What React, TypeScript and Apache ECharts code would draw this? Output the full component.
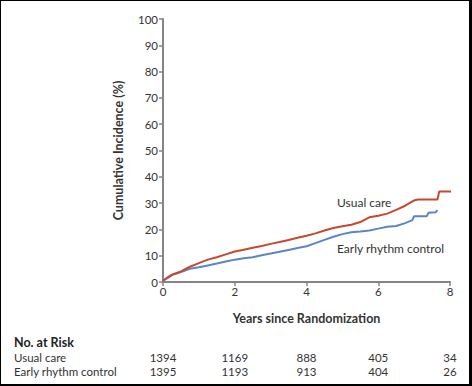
import React, { useEffect, useRef } from "react";
import * as echarts from "echarts";

const xTicks = [0, 2, 4, 6, 8];
const usualCare: [number, number][] = [
  [0, 0.5], [0.1, 1.5], [0.25, 2.8], [0.5, 4.0], [0.75, 5.8], [1.0, 7.2], [1.25, 8.5],
  [1.5, 9.4], [1.75, 10.5], [2.0, 11.6], [2.25, 12.3], [2.5, 13.0], [2.75, 13.7],
  [3.0, 14.5], [3.25, 15.2], [3.5, 16.0], [3.75, 16.8], [4.0, 17.6], [4.25, 18.5],
  [4.5, 19.6], [4.75, 20.5], [5.0, 21.2], [5.25, 21.8], [5.5, 22.8], [5.75, 24.6],
  [6.0, 25.2], [6.25, 26.0], [6.5, 27.4], [6.75, 29.0], [7.0, 31.0], [7.1, 31.4],
  [7.65, 31.4], [7.7, 34.4], [8.05, 34.4],
];
const earlyRhythm: [number, number][] = [
  [0, 0.5], [0.1, 1.3], [0.25, 2.6], [0.5, 3.8], [0.75, 5.0], [1.0, 5.6], [1.25, 6.3],
  [1.5, 7.0], [1.75, 7.8], [2.0, 8.5], [2.25, 9.0], [2.5, 9.4], [2.75, 10.2],
  [3.0, 10.8], [3.25, 11.5], [3.5, 12.2], [3.75, 12.9], [4.0, 13.6], [4.25, 14.8],
  [4.5, 16.0], [4.75, 17.2], [5.0, 18.2], [5.25, 18.9], [5.5, 19.2], [5.75, 19.6],
  [6.0, 20.3], [6.25, 21.0], [6.5, 21.3], [6.75, 22.4], [6.95, 23.5], [7.0, 25.0],
  [7.35, 25.0], [7.4, 26.3], [7.6, 26.5], [7.65, 27.3],
];
const riskUsual = [1394, 1169, 888, 405, 34];
const riskEarly = [1395, 1193, 913, 404, 26];
const groupNames = ["Usual care", "Early rhythm control"];

const FONT = "Lato";
const RED = "#c4492e";
const BLUE = "#5b86c4";
const AXIS = "#858585";
const TEXT = "#333";

export default function App() {
  const ref = useRef<HTMLDivElement>(null);
  useEffect(() => {
    document.body.style.margin = "0";
    const chart = echarts.init(ref.current!, null, { renderer: "svg" });
    chart.setOption({
      animation: false,
      grid: { left: 163, right: 22, top: 19, bottom: 104 },
      xAxis: {
        type: "value",
        min: 0,
        max: 8,
        interval: 2,
        name: "Years since Randomization",
        nameLocation: "middle",
        nameGap: 30,
        nameTextStyle: { fontFamily: FONT, fontWeight: "bold", fontSize: 12.5, color: TEXT },
        axisLine: { lineStyle: { color: AXIS, width: 2 } },
        axisTick: { length: 4, lineStyle: { color: AXIS, width: 1.5 } },
        axisLabel: { fontFamily: FONT, fontSize: 11.5, color: TEXT, margin: 3 },
        splitLine: { show: false },
      },
      yAxis: {
        type: "value",
        min: 0,
        max: 100,
        interval: 10,
        name: "Cumulative Incidence (%)",
        nameLocation: "middle",
        nameGap: 38,
        nameTextStyle: { fontFamily: FONT, fontWeight: "bold", fontSize: 12.5, color: TEXT },
        axisLine: { show: true, lineStyle: { color: AXIS, width: 2 } },
        axisTick: { show: true, length: 4, lineStyle: { color: AXIS, width: 1.5 } },
        axisLabel: { fontFamily: FONT, fontSize: 11.5, color: TEXT, margin: 5 },
        splitLine: { show: false },
      },
      series: [
        {
          name: groupNames[0],
          type: "line",
          data: usualCare,
          showSymbol: false,
          lineStyle: { color: RED, width: 2 },
          z: 3,
        },
        {
          name: groupNames[1],
          type: "line",
          data: earlyRhythm,
          showSymbol: false,
          lineStyle: { color: BLUE, width: 2 },
          z: 2,
        },
      ],
    });
    const px = (x: number, y: number) => chart.convertToPixel({ gridIndex: 0 }, [x, y]) as number[];
    const graphic: any[] = [];
    const lu = px(4.85, 30.1);
    const le = px(4.85, 12.9);
    graphic.push({
      type: "text", x: lu[0], y: lu[1],
      style: { text: groupNames[0], font: `12px ${FONT}`, fill: TEXT, verticalAlign: "middle", align: "left" },
    });
    graphic.push({
      type: "text", x: le[0], y: le[1],
      style: { text: groupNames[1], font: `12px ${FONT}`, fill: TEXT, verticalAlign: "middle", align: "left" },
    });
    graphic.push({
      type: "text", x: 14, y: 342,
      style: { text: "No. at Risk", font: `bold 12.5px ${FONT}`, fill: "#222", verticalAlign: "middle" },
    });
    const rowsY = [357, 371];
    [riskUsual, riskEarly].forEach((row, r) => {
      graphic.push({
        type: "text", x: 14, y: rowsY[r],
        style: { text: groupNames[r], font: `11.5px ${FONT}`, fill: TEXT, verticalAlign: "middle" },
      });
      row.forEach((v, i) => {
        const p = px(xTicks[i], 0);
        graphic.push({
          type: "text", x: p[0], y: rowsY[r],
          style: { text: String(v), font: `11.5px ${FONT}`, fill: TEXT, verticalAlign: "middle", align: "center" },
        });
      });
    });
    chart.setOption({ graphic });
    return () => chart.dispose();
  }, []);
  return (
    <div style={{ position: "relative", width: 472, height: 386 }}>
      <div ref={ref} style={{ width: 472, height: 386 }} />
      <div
        style={{
          position: "absolute", left: 0, top: 0, width: 472, height: 386, boxSizing: "border-box",
          borderLeft: "1px solid #000", borderTop: "1px solid #000", borderRight: "3px solid #000",
          borderBottom: "2px solid #000", pointerEvents: "none",
        }}
      />
    </div>
  );
}
